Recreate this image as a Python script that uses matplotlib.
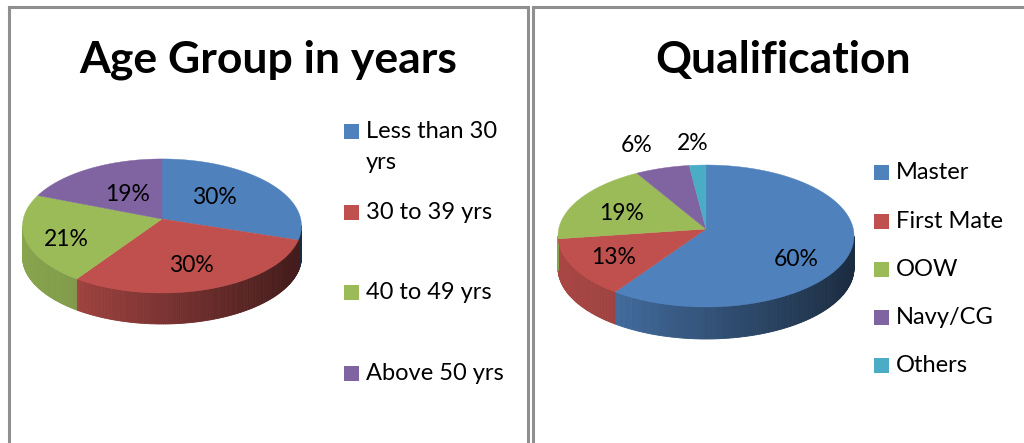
import numpy as np
import matplotlib
matplotlib.use("Agg")
import matplotlib.pyplot as plt
from matplotlib.patches import Polygon, Rectangle

plt.rcParams['font.family'] = ['Lato', 'DejaVu Sans']

W, H = 1024, 443

age_labels = ["Less than 30\nyrs", "30 to 39 yrs", "40 to 49 yrs", "Above 50 yrs"]
age_values = [30, 29.5, 21.5, 19]
age_pct = ["30%", "30%", "21%", "19%"]

qual_labels = ["Master", "First Mate", "OOW", "Navy/CG", "Others"]
qual_values = [59.6, 13.2, 18.7, 6.5, 2]
qual_pct = ["60%", "13%", "19%", "6%", "2%"]

COLORS = ["#4f81bd", "#c0504d", "#9bbb59", "#8064a2", "#4bacc6"]


def project(theta, r, geo):
    # theta clockwise from the far side, with a little perspective
    u = r * np.sin(theta)
    v = r * np.cos(theta)
    d = 1 + geo["k"] * v
    return geo["cx"] + geo["a"] * u / d, geo["cy"] - geo["b"] * v / d


def shade(x, geo):
    # side wall gets darker from left to right
    t = (x - (geo["cx"] - geo["a"])) / (2 * geo["a"])
    return np.interp(t, [0, 0.2, 1], [0.88, 0.82, 0.34])


def draw_pie(ax, values, pct, geo, label_pos):
    fr = np.cumsum([0] + values) / sum(values) * 2 * np.pi
    # side wall first
    for i in range(len(values)):
        th = np.linspace(fr[i], fr[i + 1], max(int((fr[i + 1] - fr[i]) * 80), 2))
        base = np.array(matplotlib.colors.to_rgb(COLORS[i]))
        for t0, t1 in zip(th[:-1], th[1:]):
            if np.cos((t0 + t1) / 2) > -geo["k"]:
                continue
            x0, y0 = project(t0, 1, geo)
            x1, y1 = project(t1, 1, geo)
            pts = [(x0, y0), (x1, y1), (x1, y1 + geo["depth"]), (x0, y0 + geo["depth"])]
            c = base * shade((x0 + x1) / 2, geo)
            ax.add_patch(Polygon(pts, closed=True, fc=c, ec=c, lw=0.6, zorder=2))
    # top face
    for i in range(len(values)):
        th = np.linspace(fr[i], fr[i + 1], 120)
        xs, ys = project(th, 1, geo)
        pts = [(geo["cx"], geo["cy"])] + list(zip(xs, ys))
        ax.add_patch(Polygon(pts, closed=True, fc=COLORS[i], ec=COLORS[i], lw=0.3, zorder=3))
    for s, (x, y) in zip(pct, label_pos):
        ax.text(x, y, s, fontsize=16.5, color="black", ha="center", va="center", zorder=5)


def draw_legend(ax, labels, xbox, xtext, ys):
    for i, (lab, y) in enumerate(zip(labels, ys)):
        ax.add_patch(Rectangle((xbox, y - 7.5), 15, 15, fc=COLORS[i], ec="none", zorder=4))
        ax.text(xtext, y - 10, lab, fontsize=17, color="black", ha="left", va="top",
                linespacing=1.6, zorder=5)


fig = plt.figure(figsize=(W / 100, H / 100), dpi=100)
ax = fig.add_axes([0, 0, 1, 1])
ax.set_xlim(0, W)
ax.set_ylim(H, 0)
ax.axis("off")

# panel frames
frame = "#8f8f8f"
ax.plot([1024, 533, 533], [6.5, 6.5, 443], color=frame, lw=2.2, solid_joinstyle="miter")
ax.plot([8.5, 8.5], [443, 6.5], color=frame, lw=2.2)
ax.plot([8.5, 528, 528], [6.5, 6.5, 443], color=frame, lw=2.2, solid_joinstyle="miter")

ax.text(268, 60, "Age Group in years", fontsize=32, fontweight="bold", ha="center", va="center")
ax.text(783, 60, "Qualification", fontsize=32, fontweight="bold", ha="center", va="center")

age_geo = dict(cx=162, cy=219, a=138.7, b=66.3, k=0.104, depth=31)
qual_geo = dict(cx=706, cy=229, a=147.3, b=70.3, k=0.0986, depth=32)

draw_pie(ax, age_values, age_pct, age_geo, [(214, 197), (191, 266), (66, 239), (128, 194)])
draw_pie(ax, qual_values, qual_pct, qual_geo, [(796, 259), (614, 258), (622, 213), (637, 145), (693, 143)])

draw_legend(ax, age_labels, 344, 366, [131, 212, 292, 373])
draw_legend(ax, qual_labels, 874, 896, [172, 221, 269, 317, 365])

fig.savefig("out.png", dpi=100)
